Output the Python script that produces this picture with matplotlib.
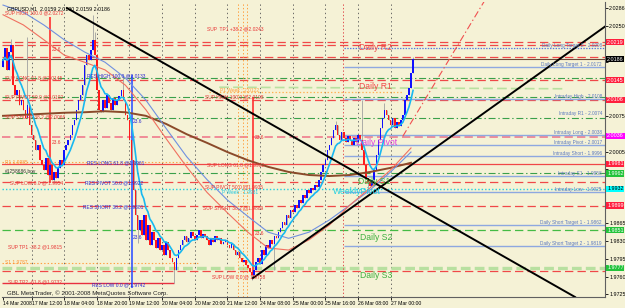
import numpy as np
import pandas as pd
import matplotlib
matplotlib.use("Agg")
import matplotlib.pyplot as plt

plt.rcParams['lines.scale_dashes'] = False
plt.rcParams['font.family'] = ['Liberation Sans', 'DejaVu Sans']

# GBPUSD H1 closes, one per bar (14 Mar 2008 -> 27 Mar 2008 11:00)
closes = [
    2.0184, 2.0208, 2.0165, 2.0200, 2.0214, 2.0135, 2.0116, 2.0126, 2.0096, 2.0106,
    2.0087, 2.0071, 2.0096, 2.0057, 2.0037, 2.0028, 2.0008, 2.0018, 1.9989, 1.9979,
    1.9969, 1.9993, 1.9959, 1.9979, 1.9950, 1.9965, 1.9953, 1.9973, 1.9989, 1.9979,
    2.0008, 2.0018, 2.0028, 2.0037, 2.0057, 2.0067, 2.0087, 2.0106, 2.0116, 2.0135,
    2.0175, 2.0194, 2.0184, 2.0204, 2.0224, 2.0194, 2.0126, 2.0087, 2.0082, 2.0106,
    2.0090, 2.0116, 2.0100, 2.0087, 2.0110, 2.0096, 2.0106, 2.0114, 2.0126, 2.0106,
    2.0077, 2.0067, 2.0028, 1.9989, 1.9930, 1.9881, 1.9852, 1.9871, 1.9842, 1.9881,
    1.9832, 1.9861, 1.9822, 1.9847, 1.9832, 1.9816, 1.9836, 1.9812, 1.9822, 1.9802,
    1.9828, 1.9812, 1.9796, 1.9788, 1.9773, 1.9796, 1.9812, 1.9822, 1.9832, 1.9840,
    1.9828, 1.9836, 1.9847, 1.9840, 1.9832, 1.9841, 1.9851, 1.9836, 1.9843, 1.9840,
    1.9832, 1.9822, 1.9836, 1.9828, 1.9840, 1.9832, 1.9836, 1.9824, 1.9828, 1.9832,
    1.9822, 1.9816, 1.9824, 1.9812, 1.9802, 1.9808, 1.9796, 1.9788, 1.9792, 1.9782,
    1.9777, 1.9769, 1.9763, 1.9773, 1.9788, 1.9796, 1.9785, 1.9812, 1.9802, 1.9822,
    1.9816, 1.9832, 1.9824, 1.9840, 1.9836, 1.9847, 1.9855, 1.9867, 1.9861, 1.9881,
    1.9875, 1.9891, 1.9887, 1.9900, 1.9894, 1.9910, 1.9904, 1.9920, 1.9914, 1.9930,
    1.9924, 1.9934, 1.9930, 1.9940, 1.9936, 1.9949, 1.9965, 1.9979, 1.9989, 2.0008,
    2.0018, 2.0032, 2.0047, 2.0057, 2.0037, 2.0028, 2.0043, 2.0032, 2.0024, 2.0035,
    2.0028, 2.0018, 2.0032, 2.0024, 2.0037, 2.0028, 2.0008, 1.9979, 1.9953, 1.9945,
    1.9937, 1.9949, 1.9969, 1.9998, 2.0028, 2.0051, 2.0071, 2.0087, 2.0077, 2.0067,
    2.0057, 2.0071, 2.0051, 2.0063, 2.0055, 2.0067, 2.0077, 2.0106, 2.0116, 2.0130,
    2.0159, 2.0186,
]
first_open = 2.0170
# notable wick extremes (bar index -> price)
wick_highs = {4: 2.0226, 12: 2.0229, 44: 2.0272, 45: 2.0240, 59: 2.0155,
              163: 2.0065, 176: 2.0106, 187: 2.0100, 201: 2.0190}
wick_lows = {25: 1.9945, 66: 1.9825, 84: 1.9747, 122: 1.9753, 133: 1.9773,
             179: 1.9930, 201: 2.0159}

# slower moving averages sampled every 10 bars
ma_bars = [0, 10, 20, 30, 40, 50, 60, 70, 80, 90, 100, 110, 120, 130, 140, 150, 160, 170, 180, 190, 200]
ma_brown = [2.0075, 2.0077, 2.0079, 2.0081, 2.0082, 2.0084, 2.0082, 2.0075, 2.0059, 2.0039, 2.0022,
            2.0004, 1.9988, 1.9975, 1.9965, 1.9959, 1.9957, 1.9959, 1.9965, 1.9973, 1.9983]
ma_blue = [2.0292, 2.0278, 2.0253, 2.0224, 2.0200, 2.0180, 2.0149, 2.0106, 2.0050, 1.9995, 1.9950,
           1.9910, 1.9878, 1.9847, 1.9835, 1.9847, 1.9871, 1.9900, 1.9930, 1.9965, 2.0004]
ma_red = [2.0273, 2.0253, 2.0224, 2.0194, 2.0180, 2.0165, 2.0135, 2.0087, 2.0030, 1.9975, 1.9925,
          1.9885, 1.9847, 1.9816, 1.9812, 1.9832, 1.9861, 1.9900, 1.9934, 1.9969, 2.0012]

# horizontal levels
red_dashed = [2.0219, 2.0214, 2.0190, 2.0145, 2.0106, 1.9946, 1.9899, 1.9770]
green_dashdot = [2.0149, 2.0112, 2.0071, 1.9962]
red_solid = [1.9981]
green_dashed = [1.9851]
light_green = [1.9777]
pink_dashed = [2.0034]
cyan_dotted = [1.9932]
orange_dotted = [1.9985, 1.9787]
week_p1 = 2.0122
daily_blue = [2.0171, 2.0108, 2.0038, 2.0017, 1.9996, 1.9958, 1.9925, 1.9862, 1.9819]
daily_blue_dotted = [2.0208]
current_price = 2.0186

# trendlines (bar, price)
trend_down = ([31.4, 280.4], [2.0286, 1.9720])
trend_up = ([122.5, 299.0], [1.9757, 2.0261])
trend_red = ([196.0, 236.0], [2.0035, 2.0300])

# right-axis ticks and price tags
y_ticks = [1.9725, 1.9760, 1.9795, 1.9830, 1.9865, 1.9900, 1.9935, 1.9970, 2.0005,
           2.0040, 2.0075, 2.0110, 2.0145, 2.0180, 2.0215, 2.0250, 2.0286]
y_hidden = [1.9900, 1.9935, 1.9970, 2.0040, 2.0110, 2.0145, 2.0180, 2.0215]
tag_values = [2.0219, 2.0186, 2.0145, 2.0106, 2.0036, 1.9981, 1.9962, 1.9932, 1.9899, 1.9851, 1.9777]
tag_colors = ['#ff1f3d', 'black', '#ff1f3d', '#ff1f3d', '#ff00ff', '#ff1f3d', '#22c33a',
              'cyan', '#ff1f3d', '#22c33a', '#22c33a']

x_tick_pos = [0, 14, 30, 46, 62, 78, 94, 110, 126, 142, 158, 174, 190]
x_tick_labels = ["14 Mar 2008", "17 Mar 12:00", "18 Mar 04:00", "18 Mar 20:00", "19 Mar 12:00",
                 "20 Mar 04:00", "20 Mar 20:00", "21 Mar 12:00", "24 Mar 08:00", "25 Mar 00:00",
                 "25 Mar 16:00", "26 Mar 08:00", "27 Mar 00:00"]

bg = '#f5f2d6'
fig = plt.figure(figsize=(6.25, 3.08), dpi=100)
fig.patch.set_facecolor(bg)
ax = fig.add_axes([2 / 625, 11 / 308, 603 / 625, 295 / 308])
ax.set_facecolor(bg)
ax.set_xlim(-0.5, 295.1)
ax.set_ylim(1.9720, 2.0298)

# grid
for xp in x_tick_pos[1:]:
    ax.axvline(xp, color='#555555', lw=0.6, ls=(0, (1, 2)), zorder=1)

# horizontal levels
for v in red_dashed:
    ax.axhline(v, color='#f04848', lw=0.9, ls=(0, (6, 3)), zorder=1)
for v in green_dashdot:
    ax.axhline(v, color='#3aa04a', lw=0.8, ls=(0, (5, 2, 1, 2)), zorder=1)
for v in red_solid:
    ax.axhline(v, color='#f04848', lw=0.9, zorder=1)
for v in green_dashed:
    ax.axhline(v, color='#44bb44', lw=0.9, ls=(0, (6, 3)), zorder=1)
for v in light_green:
    ax.axhline(v, color='#b8e0a0', lw=2.4, ls=(0, (7, 3)), zorder=1)
for v in pink_dashed:
    ax.axhline(v, color='#f07a8c', lw=1.2, ls=(0, (6, 3)), zorder=1)
for v in cyan_dotted:
    ax.axhline(v, color='#22d0e0', lw=1.0, ls=(0, (1, 1.5)), zorder=1)
for v in orange_dotted:
    ax.hlines(v, -0.5, 96, color='#ffa040', lw=0.8, ls=(0, (1, 1.5)), zorder=1)
ax.hlines(week_p1, 101, 196, color='#ffb050', lw=0.9, ls=(0, (1, 1.5)), zorder=1)
ax.plot([106, 275], [2.0131, 2.0128], color='#b8e0a0', lw=1.2, ls=(0, (7, 3)), zorder=1)
ax.axhline(current_price, color='#6b4a3a', lw=0.8, zorder=1)
ax.hlines(daily_blue, 167, 296, color='#8ea8e0', lw=1.0, zorder=1)
ax.hlines(daily_blue_dotted, 167, 296, color='#5577dd', lw=0.9, ls=(0, (1, 1)), zorder=1)
ax.hlines(1.9747, -0.5, 84, color='#e83040', lw=1.0, zorder=1)

# vertical object lines
ax.vlines(23, 1.9943, 2.0269, color='#ff3030', lw=1.2, zorder=2)
ax.vlines(63.2, 1.9738, 2.0155, color='#3355ff', lw=1.2, zorder=2)
ax.vlines(122.5, 1.9757, 2.0112, color='#ff3030', lw=1.2, zorder=2)
ax.axvline(166.7, color='#e05050', lw=0.7, ls=(0, (1, 1.5)), zorder=1)
for xp in [115, 117.6, 119.6]:
    ax.axvline(xp, color='#ffa040', lw=0.7, ls=(0, (1, 1.5)), zorder=1)

# candles
c = np.array(closes)
o = np.array([first_open] + closes[:-1])
idx = np.arange(len(c))
hi = np.maximum(o, c)
lo = np.minimum(o, c)
for k, v in wick_highs.items():
    hi[k] = v
for k, v in wick_lows.items():
    lo[k] = v
ax.vlines(idx, lo, hi, color='#a0a0a0', lw=0.6, zorder=3)
up = c >= o
body = np.maximum(np.abs(c - o), 0.00006)
ax.bar(idx[up], body[up], bottom=np.minimum(o, c)[up], width=0.8, color='#1010ff', zorder=4)
ax.bar(idx[~up], body[~up], bottom=np.minimum(o, c)[~up], width=0.8, color='#ff1a1a', zorder=4)

# moving averages
ax.plot(ma_bars, ma_brown, color='#8b4a2a', lw=1.4, zorder=5)
ax.plot(ma_bars, ma_blue, color='#7090e0', lw=0.8, zorder=5)
ax.plot(ma_bars, ma_red, color='#f07060', lw=0.8, zorder=5)
ema = pd.Series(closes).ewm(span=8, adjust=False).mean()
ax.plot(idx, ema, color='#18b8f0', lw=1.2, zorder=5)

# trendlines
ax.plot(*trend_down, color='black', lw=1.4, zorder=6)
ax.plot(*trend_up, color='black', lw=1.4, zorder=6)
ax.plot(*trend_red, color='#f05050', lw=0.8, ls=(0, (5, 2, 1, 2)), zorder=6)

# fib and level labels
red_txt = '#e83535'
blue_txt = '#2a2ad0'
fs = 3.5
for x, y, s in [(1, 2.0277, "SUP HIGH 100.0 @2.0272"), (1, 2.0149, "SUP LONG 61.8 @2.0145"),
                (1, 2.0112, "SUP PIVOT 50.0 @2.0102"), (1, 2.0073, "SUP SHORT 38.2 @2.0066"),
                (3.4, 1.9943, "SUP LOW 0.0 @ 1.9954"), (2.5, 1.9818, "SUP TP1 -38.2 @1.9815"),
                (2.5, 1.9750, "SUP TP2 -61.8 @1.9732"), (24, 2.0204, "23.6"), (24, 2.0022, "23.6"),
                (100, 2.0245, "SUP  TP1 +38.2 @2.0243"), (99, 2.0112, "SUP HIGH 100.0 @2.0108"),
                (123.5, 2.0033, "23.6"), (100, 1.9979, "SUP LONG 61.8 @1.9982"),
                (99, 1.9935, "SUP PIVOT 50.0 @1.9935"), (98, 1.9894, "SUP SHORT 38.2 @1.9889"),
                (123.5, 1.9845, "23.6"), (102.5, 1.9759, "SUP LOW 0.0 @ 1.9758")]:
    ax.text(x, y, s, color=red_txt, fontsize=fs, va='center', ha='left', zorder=7)
for x, y, s in [(41.2, 2.0153, "RES HIGH 100.0 @2.0133"), (41.2, 1.9983, "RES LONG 61.8 @1.9961"),
                (40.2, 1.9943, "RES PIVOT 50.0 @1.9922"), (39.2, 1.9896, "RES SHORT 38.2 @1.9881"),
                (63.7, 2.0063, "23.6"), (63.7, 1.9836, "23.6"), (43.6, 1.9744, "RES LOW 0.0 @ 1.9742")]:
    ax.text(x, y, s, color=blue_txt, fontsize=fs, va='center', ha='left', zorder=7)
ax.text(106.4, 2.0124, "P1 Week : 2.0122", color='#ffa040', fontsize=fs, va='center', zorder=7)
ax.text(107.4, 1.9924, "P Week : 1.9931", color='#20c8e0', fontsize=fs, va='center', zorder=7)
ax.text(1, 1.9983, "R1 1.9985", color='#ff9030', fontsize=fs, va='center', zorder=7)
ax.text(1, 1.9787, "S1 1.9787", color='#ff9030', fontsize=fs, va='center', zorder=7)
ax.text(1, 1.9965, "#1258686.bov", color='#333333', fontsize=fs, va='center', zorder=7)

for x, y, s, col in [(174.5, 2.0208, "Daily R2", '#f04848'), (174.5, 2.0133, "Daily R1", '#f04848'),
                     (173, 2.0022, "Daily Pivot", '#e040e0'), (174, 1.9947, "Daily S1", '#40b040'),
                     (161.8, 1.9926, "WeeklyPivot", '#20d0e0'), (175, 1.9837, "Daily S2", '#40b040'),
                     (175, 1.9763, "Daily S3", '#40b040')]:
    ax.text(x, y, s, color=col, fontsize=6.2, va='center', ha='left', zorder=7)

for y, s in [(2.0208, "Daily Long Target 2 - 2.0208"), (2.0171, "Daily Long Target 1 - 2.0172"),
             (2.0108, "Intraday High - 2.0108"), (2.0074, "Intraday R1 - 2.0074"),
             (2.0038, "Intraday Long - 2.0038"), (2.0017, "Intraday Pivot - 2.0017"),
             (1.9996, "Intraday Short - 1.9996"), (1.9958, "Intraday S1 - 1.9958"),
             (1.9925, "Intraday Low - 1.9925"), (1.9862, "Daily Short Target 1 - 1.9862"),
             (1.9819, "Daily Short Target 2 - 1.9819")]:
    ax.text(293.6, y, s, color='#5a78c0', fontsize=3.4, va='bottom', ha='right', zorder=7)

ax.text(0.008, 0.985, "GBPUSD,H1  2.0159 2.0190 2.0159 2.0186", transform=ax.transAxes,
        fontsize=3.8, va='top', ha='left', color='black', zorder=8)
ax.text(0.008, 0.005, "GBL MetaTrader, \u00a9 2001-2008 MetaQuotes Software Corp.", transform=ax.transAxes,
        fontsize=4.4, va='bottom', ha='left', color='#222222', zorder=8)

# axes styling
for sp in ['top', 'left']:
    ax.spines[sp].set_visible(False)
for sp in ['right', 'bottom']:
    ax.spines[sp].set_color('#606060')
    ax.spines[sp].set_linewidth(0.8)
ax.yaxis.tick_right()
ax.set_yticks(y_ticks)
ax.set_yticklabels(['' if v in y_hidden else f"{v:.4f}" for v in y_ticks])
ax.tick_params(axis='y', length=2, width=0.6, labelsize=3.9, pad=1.0, colors='black')
ax.set_xticks(x_tick_pos)
ax.set_xticklabels(x_tick_labels, ha='left')
ax.tick_params(axis='x', length=2, width=0.6, labelsize=3.7, pad=1, colors='black')

for v, col in zip(tag_values, tag_colors):
    tc = 'black' if col == 'cyan' else 'white'
    ax.text(1.0035, v, f"{v:.4f}", transform=ax.get_yaxis_transform(), fontsize=3.9, color=tc,
            va='center', ha='left', zorder=9, clip_on=False,
            bbox=dict(boxstyle='square,pad=0.12', fc=col, ec='none'))

fig.savefig('out.png', dpi=100, facecolor=bg)
